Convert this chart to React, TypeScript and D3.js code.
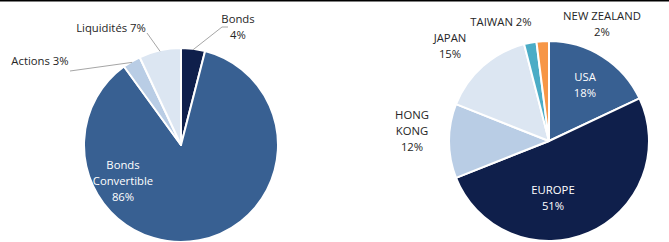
import React, { useEffect, useRef } from 'react';
import * as d3 from 'd3';

const W = 669;
const H = 242;

// left pie: asset types
const assetLabels = ['Bonds', 'Bonds Convertible', 'Actions', 'Liquidités'];
const assetValues = [4, 86, 3, 7];
const assetColors = ['#0f1f4b', '#386092', '#b9cde5', '#dce6f2'];

// right pie: geography
const geoLabels = ['USA', 'EUROPE', 'HONG KONG', 'JAPAN', 'TAIWAN', 'NEW ZEALAND'];
const geoValues = [18, 51, 12, 15, 2, 2];
const geoColors = ['#386092', '#0f1f4b', '#b9cde5', '#dce6f2', '#4bacc6', '#f79646'];

const FONT = "'Open Sans', 'Noto Sans', sans-serif";
const TEXT = '#262626';

const App = () => {
  const svgRef = useRef<SVGSVGElement>(null);

  useEffect(() => {
    const svg = d3.select(svgRef.current);
    svg.selectAll('*').remove();

    svg.append('line')
      .attr('x1', 0).attr('x2', W)
      .attr('y1', 0.5).attr('y2', 0.5)
      .attr('stroke', '#000').attr('stroke-width', 2);

    const pie = d3.pie<number>().sort(null).value(d => d);

    const drawPie = (cx: number, cy: number, r: number, values: number[], colors: string[]) => {
      const arcs = pie(values);
      const arc = d3.arc<d3.PieArcDatum<number>>().innerRadius(0).outerRadius(r);
      const g = svg.append('g').attr('transform', `translate(${cx},${cy})`);
      g.selectAll('path')
        .data(arcs)
        .enter()
        .append('path')
        .attr('d', arc)
        .attr('fill', (d, i) => colors[i])
        .attr('stroke', '#fff')
        .attr('stroke-width', 2)
        .attr('stroke-linejoin', 'round');
      return { g, arcs };
    };

    const addText = (g: any, x: number, y: number, lines: string[], color = TEXT) => {
      const t = g.append('text')
        .attr('text-anchor', 'middle')
        .style('font-family', FONT)
        .style('font-size', '11.3px')
        .attr('fill', color);
      lines.forEach((s, i) => {
        t.append('tspan').attr('x', x).attr('y', y + i * 16).text(s);
      });
    };

    // ---- left pie
    const L = { cx: 181, cy: 145, r: 97 };
    const left = drawPie(L.cx, L.cy, L.r, assetValues, assetColors);
    const mid = (d: d3.PieArcDatum<number>) => (d.startAngle + d.endAngle) / 2;
    const edge = (d: d3.PieArcDatum<number>, r: number) =>
      [Math.sin(mid(d)) * r, -Math.cos(mid(d)) * r];

    // leader lines: [elbow, end] relative to center
    const leaders: Record<number, number[][]> = {
      0: [[41, -118], [47, -118]],
      2: [[-111, -74], [-111, -74]],
      3: [[-34, -112], [-34, -112]],
    };
    Object.entries(leaders).forEach(([k, pts]) => {
      const d = left.arcs[+k];
      const [sx, sy] = edge(d, L.r - 1);
      left.g.append('polyline')
        .attr('points', [[sx, sy], ...pts].map(p => p.join(',')).join(' '))
        .attr('fill', 'none')
        .attr('stroke', '#a6a6a6')
        .attr('stroke-width', 1);
    });

    addText(left.g, 57, -122, ['Bonds', '4%']);
    addText(left.g, -70, -113, ['Liquidités 7%']);
    addText(left.g, -141, -80, ['Actions 3%']);
    addText(left.g, -58, 24, ['Bonds', 'Convertible', '86%'], '#fff');

    // ---- right pie
    const R = { cx: 549, cy: 141, r: 100 };
    const right = drawPie(R.cx, R.cy, R.r, geoValues, geoColors);
    addText(right.g, 36, -60, ['USA', '18%'], '#fff');
    addText(right.g, 4, 53, ['EUROPE', '51%'], '#fff');
    addText(right.g, -137, -22, ['HONG', 'KONG', '12%']);
    addText(right.g, -99, -99, ['JAPAN', '15%']);
    addText(right.g, -48, -115, ['TAIWAN 2%']);
    addText(right.g, 53, -121, ['NEW ZEALAND', '2%']);
  }, []);

  return (
    <div style={{ position: 'absolute', left: 0, top: 0 }}>
      <svg ref={svgRef} width={W} height={H} style={{ display: 'block', background: '#fff' }} />
    </div>
  );
};

export default App;
